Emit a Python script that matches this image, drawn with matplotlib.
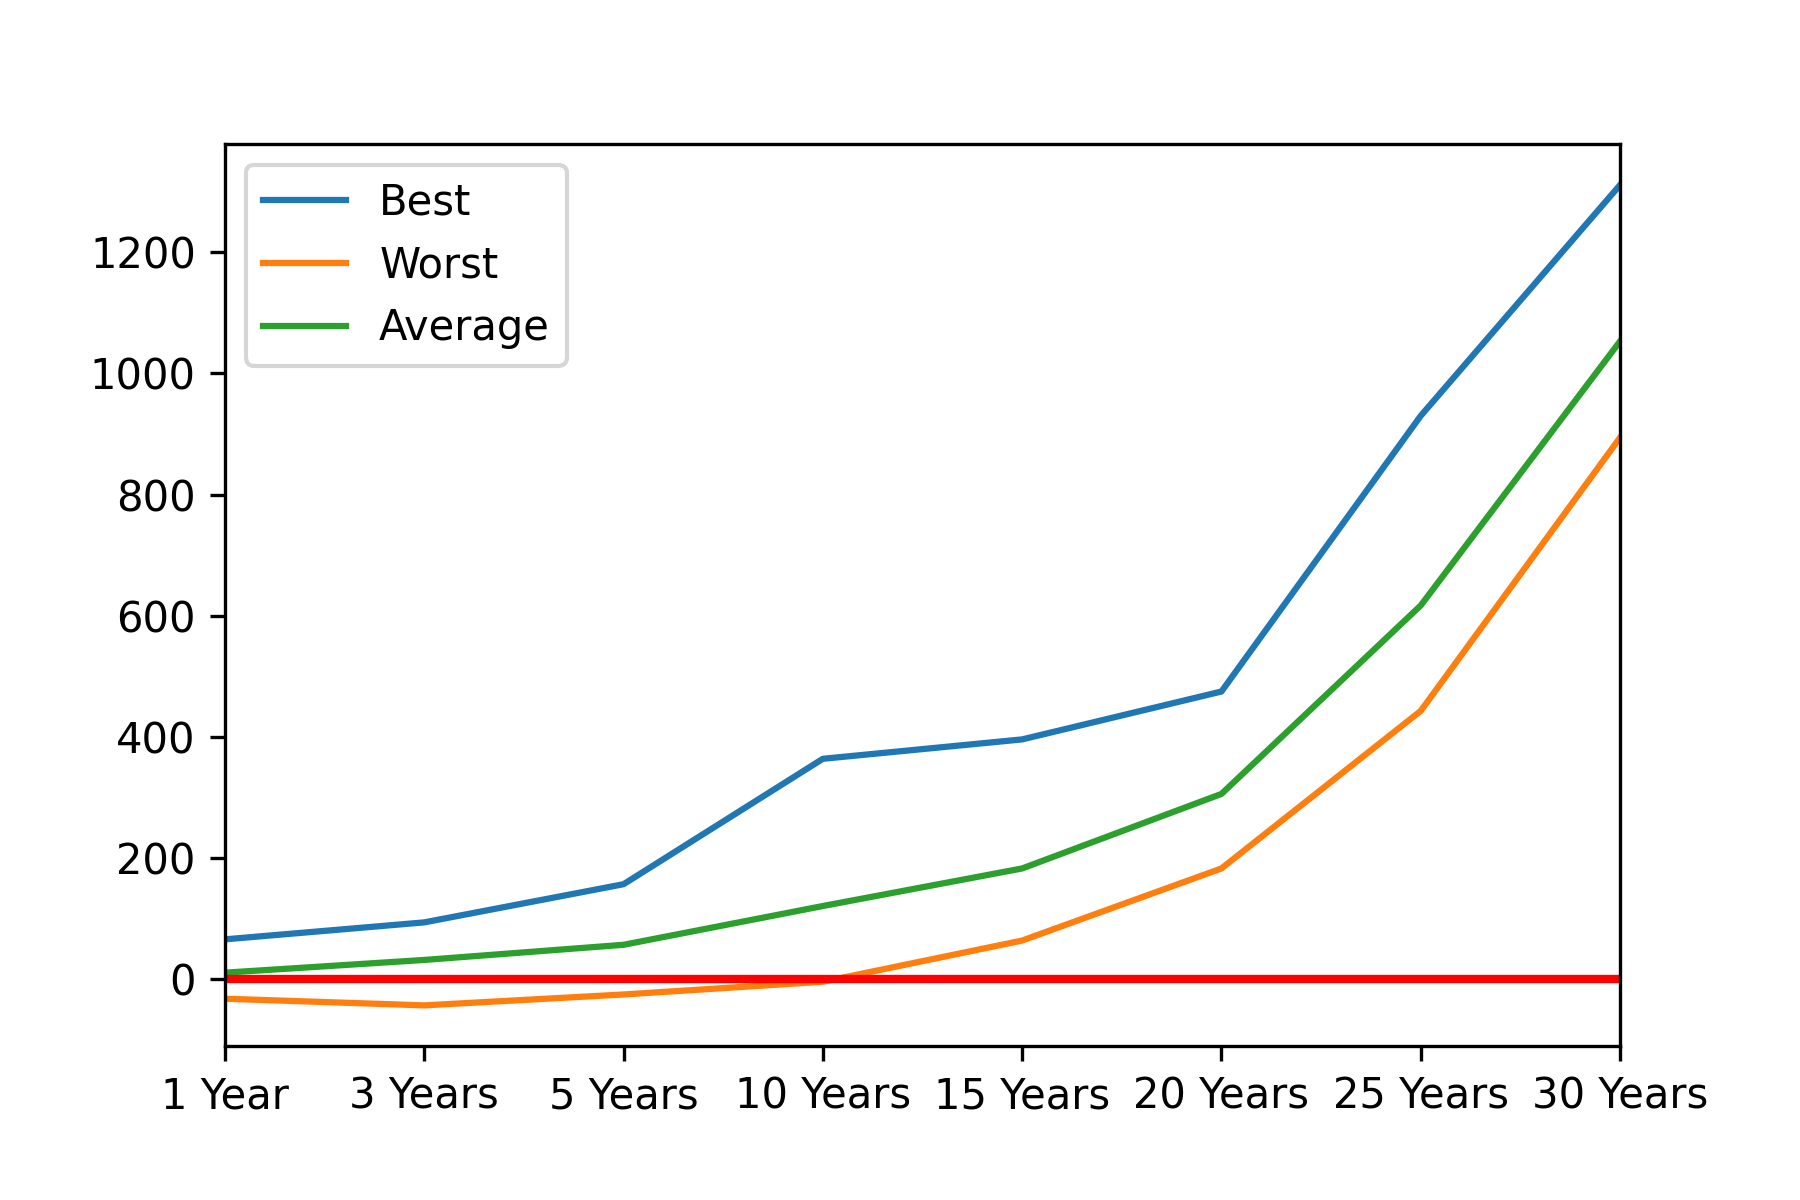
import matplotlib
matplotlib.use('Agg')
import matplotlib.pyplot as plt
import numpy as np

periodos = ['1 Year', '3 Years', '5 Years', '10 Years', '15 Years', '20 Years', '25 Years', '30 Years']
melhor = [66, 94, 157, 364, 396, 475, 930, 1311]
pior = [-32, -43, -25, -4, 64, 183, 443, 894]
media = [11, 32, 57, 121, 183, 306, 617, 1053]

pos = np.arange(len(periodos))

fig = plt.figure(figsize=(6, 4), dpi=300)
ax = plt.axes()
ax.plot(pos, melhor, label='Best')
ax.plot(pos, pior, label='Worst')
ax.plot(pos, media, label='Average')
ax.axhline(0, color='r', linewidth=2)

ax.set_xticks(pos)
ax.set_xticklabels(periodos)
ax.set_xlim(pos[0], pos[-1])
ax.legend(loc='upper left')

plt.subplots_adjust(bottom=0.128)
plt.savefig('out.png', dpi=300)
